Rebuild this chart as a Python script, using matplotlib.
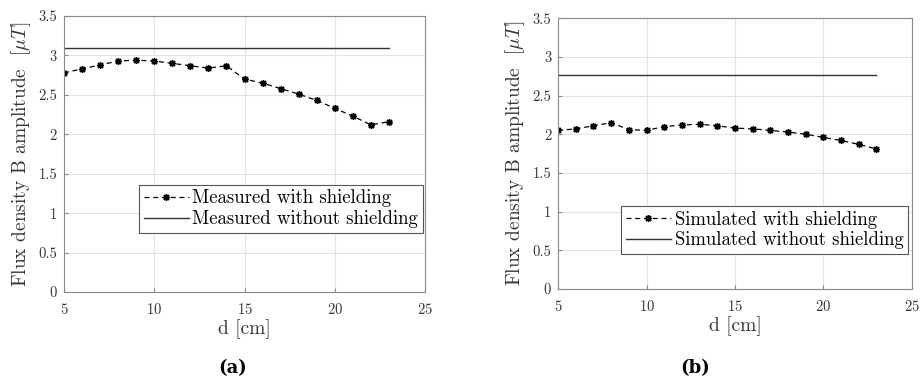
import matplotlib
matplotlib.use("Agg")
import matplotlib.pyplot as plt
from matplotlib.ticker import FormatStrFormatter

plt.rcParams['font.family'] = ['cmr10', 'DejaVu Serif']
plt.rcParams['mathtext.fontset'] = 'cm'
plt.rcParams['axes.formatter.use_mathtext'] = True

d = [5, 6, 7, 8, 9, 10, 11, 12, 13, 14, 15, 16, 17, 18, 19, 20, 21, 22, 23]
measured_shield = [2.78, 2.83, 2.88, 2.93, 2.94, 2.93, 2.90, 2.87, 2.84, 2.87,
                   2.70, 2.65, 2.58, 2.51, 2.43, 2.33, 2.23, 2.12, 2.16]
measured_no_shield = [3.10] * len(d)
simulated_shield = [2.05, 2.07, 2.11, 2.15, 2.06, 2.05, 2.10, 2.12, 2.13, 2.11,
                    2.08, 2.07, 2.05, 2.03, 2.00, 1.96, 1.92, 1.87, 1.81]
simulated_no_shield = [2.77] * len(d)

x_ticks = [5, 10, 15, 20, 25]
y_ticks = [0, 0.5, 1, 1.5, 2, 2.5, 3, 3.5]

# MATLAB-like asterisk: 8 spokes
ASTERISK = (8, 2, 0)


def draw_panel(ax, with_shield, without_shield, names, legend_anchor):
    ax.plot(d, with_shield, '--', color='black', marker=ASTERISK, markersize=5,
            markeredgewidth=1.0, linewidth=0.9, dashes=(4, 3), label=names[0])
    ax.plot(d, without_shield, '-', color='#333333', linewidth=1.0, label=names[1])
    ax.set_xlim(5, 25)
    ax.set_ylim(0, 3.5)
    ax.set_xticks(x_ticks)
    ax.set_yticks(y_ticks)
    ax.yaxis.set_major_formatter(FormatStrFormatter('%g'))
    ax.grid(True, color='#e3e3e3', linewidth=0.8)
    ax.set_axisbelow(True)
    for s in ax.spines.values():
        s.set_color('#8a8a8a')
        s.set_linewidth(0.8)
    ax.tick_params(direction='in', length=3, color='#8a8a8a', labelsize=10.5,
                   labelcolor='#333333')
    ax.tick_params(axis='x', pad=7)
    ax.tick_params(axis='y', pad=5)
    ax.set_xlabel('d [cm]', fontsize=14, color='#333333', labelpad=2)
    ax.set_ylabel(r'Flux density B amplitude  [$\mu T$]', fontsize=14,
                  color='#333333', labelpad=4)
    leg = ax.legend(loc='lower right', bbox_to_anchor=legend_anchor, fontsize=13.5,
                    frameon=True, fancybox=False, framealpha=1, edgecolor='#555555',
                    handlelength=2.4, handletextpad=0.2, borderpad=0.25,
                    labelspacing=0.15, borderaxespad=0)
    leg.get_frame().set_linewidth(0.8)


fig = plt.figure(figsize=(9.21, 3.87), dpi=100)
ax_a = fig.add_axes([0.0695, 0.2455, 0.392, 0.713])
ax_b = fig.add_axes([0.606, 0.253, 0.384, 0.700])

draw_panel(ax_a, measured_shield, measured_no_shield,
           ['Measured with shielding', 'Measured without shielding'], (0.994, 0.214))
draw_panel(ax_b, simulated_shield, simulated_no_shield,
           ['Simulated with shielding', 'Simulated without shielding'], (0.99, 0.129))

fig.text(0.253, 0.048, '(a)', ha='center', va='center', fontsize=13,
         fontweight='bold', family=['DejaVu Serif'])
fig.text(0.755, 0.048, '(b)', ha='center', va='center', fontsize=13,
         fontweight='bold', family=['DejaVu Serif'])

fig.savefig('out.png', dpi=100)
